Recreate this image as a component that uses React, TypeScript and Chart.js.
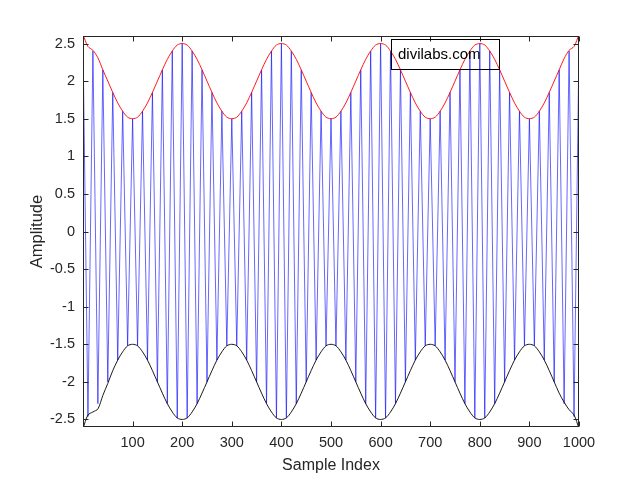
import React, { useEffect, useRef } from "react";
import { Chart, registerables } from "chart.js";

Chart.register(...registerables);

// Sample positions (every 10 samples: carrier peaks and troughs)
const sampleIndex = [
  0, 10, 20, 30, 40, 50, 60, 70, 80, 90,
  100, 110, 120, 130, 140, 150, 160, 170, 180, 190,
  200, 210, 220, 230, 240, 250, 260, 270, 280, 290,
  300, 310, 320, 330, 340, 350, 360, 370, 380, 390,
  400, 410, 420, 430, 440, 450, 460, 470, 480, 490,
  500, 510, 520, 530, 540, 550, 560, 570, 580, 590,
  600, 610, 620, 630, 640, 650, 660, 670, 680, 690,
  700, 710, 720, 730, 740, 750, 760, 770, 780, 790,
  800, 810, 820, 830, 840, 850, 860, 870, 880, 890,
  900, 910, 920, 930, 940, 950, 960, 970, 980, 990,
  1000,
];

// AM signal (blue): peak / trough values
const signal = [
  2.5, -2.46, 2.4, -2.29, 2.15, -2.0, 1.85, -1.71, 1.6, -1.52,
  1.5, -1.52, 1.6, -1.71, 1.85, -2.0, 2.15, -2.29, 2.4, -2.48,
  2.5, -2.48, 2.4, -2.29, 2.15, -2.0, 1.85, -1.71, 1.6, -1.52,
  1.5, -1.52, 1.6, -1.71, 1.85, -2.0, 2.15, -2.29, 2.4, -2.48,
  2.5, -2.48, 2.4, -2.29, 2.15, -2.0, 1.85, -1.71, 1.6, -1.52,
  1.5, -1.52, 1.6, -1.71, 1.85, -2.0, 2.15, -2.29, 2.4, -2.48,
  2.5, -2.48, 2.4, -2.29, 2.15, -2.0, 1.85, -1.71, 1.6, -1.52,
  1.5, -1.52, 1.6, -1.71, 1.85, -2.0, 2.15, -2.29, 2.4, -2.48,
  2.5, -2.48, 2.4, -2.29, 2.15, -2.0, 1.85, -1.71, 1.6, -1.52,
  1.5, -1.52, 1.6, -1.71, 1.85, -2.0, 2.15, -2.29, 2.4, -2.46,
  2.5,
];

// Upper envelope (red)
const upperEnvelope = [
  2.62, 2.46, 2.41, 2.31, 2.15, 2.0, 1.85, 1.71, 1.6, 1.52,
  1.5, 1.52, 1.6, 1.71, 1.85, 2.0, 2.15, 2.29, 2.4, 2.48,
  2.5, 2.48, 2.4, 2.29, 2.15, 2.0, 1.85, 1.71, 1.6, 1.52,
  1.5, 1.52, 1.6, 1.71, 1.85, 2.0, 2.15, 2.29, 2.4, 2.48,
  2.5, 2.48, 2.4, 2.29, 2.15, 2.0, 1.85, 1.71, 1.6, 1.52,
  1.5, 1.52, 1.6, 1.71, 1.85, 2.0, 2.15, 2.29, 2.4, 2.48,
  2.5, 2.48, 2.4, 2.29, 2.15, 2.0, 1.85, 1.71, 1.6, 1.52,
  1.5, 1.52, 1.6, 1.71, 1.85, 2.0, 2.15, 2.29, 2.4, 2.48,
  2.5, 2.48, 2.4, 2.29, 2.15, 2.0, 1.85, 1.71, 1.6, 1.52,
  1.5, 1.52, 1.6, 1.71, 1.85, 2.0, 2.15, 2.3, 2.41, 2.46,
  2.62,
];

// Lower envelope (black)
const lowerEnvelope = [
  -2.62, -2.44, -2.4, -2.36, -2.18, -2.02, -1.85, -1.71, -1.6, -1.52,
  -1.5, -1.52, -1.6, -1.71, -1.85, -2.0, -2.15, -2.29, -2.4, -2.48,
  -2.5, -2.48, -2.4, -2.29, -2.15, -2.0, -1.85, -1.71, -1.6, -1.52,
  -1.5, -1.52, -1.6, -1.71, -1.85, -2.0, -2.15, -2.29, -2.4, -2.48,
  -2.5, -2.48, -2.4, -2.29, -2.15, -2.0, -1.85, -1.71, -1.6, -1.52,
  -1.5, -1.52, -1.6, -1.71, -1.85, -2.0, -2.15, -2.29, -2.4, -2.48,
  -2.5, -2.48, -2.4, -2.29, -2.15, -2.0, -1.85, -1.71, -1.6, -1.52,
  -1.5, -1.52, -1.6, -1.71, -1.85, -2.0, -2.15, -2.29, -2.4, -2.48,
  -2.5, -2.48, -2.4, -2.29, -2.15, -2.0, -1.85, -1.71, -1.6, -1.52,
  -1.5, -1.52, -1.6, -1.71, -1.85, -2.0, -2.15, -2.27, -2.37, -2.44,
  -2.62,
];

const xTicks = [100, 200, 300, 400, 500, 600, 700, 800, 900, 1000];
const yTicks = [-2.5, -2, -1.5, -1, -0.5, 0, 0.5, 1, 1.5, 2, 2.5];
const xRange = [0, 1000];
const yRange = [-2.6, 2.6];
const xLabel = "Sample Index";
const yLabel = "Amplitude";
const annotationText = "divilabs.com";

const FONT = '"Liberation Sans", Arial, Helvetica, sans-serif';
const AXIS_COLOR = "#262626";

const framePlugin = {
  id: "matlabFrame",
  afterDatasetsDraw(chart: any) {
    const { ctx, chartArea: a, scales } = chart;
    ctx.save();
    ctx.strokeStyle = AXIS_COLOR;
    ctx.lineWidth = 1;
    const L = Math.round(a.left) + 0.5;
    const R = Math.round(a.right) - 0.5;
    const T = Math.round(a.top) + 0.5;
    const B = Math.round(a.bottom) - 0.5;
    ctx.strokeRect(L, T, R - L, B - T);
    const tl = 5;
    ctx.beginPath();
    for (const v of xTicks) {
      const px = Math.round(scales.x.getPixelForValue(v)) + 0.5;
      ctx.moveTo(px, B);
      ctx.lineTo(px, B - tl);
      ctx.moveTo(px, T);
      ctx.lineTo(px, T + tl);
    }
    for (const v of yTicks) {
      const py = Math.round(scales.y.getPixelForValue(v)) + 0.5;
      ctx.moveTo(L, py);
      ctx.lineTo(L + tl, py);
      ctx.moveTo(R, py);
      ctx.lineTo(R - tl, py);
    }
    ctx.stroke();

    // text box annotation
    ctx.strokeStyle = "#000000";
    ctx.strokeRect(391.5, 39.5, 108, 30);
    ctx.fillStyle = "#000000";
    ctx.font = `15px ${FONT}`;
    ctx.textBaseline = "middle";
    ctx.textAlign = "left";
    ctx.fillText(annotationText, 398, 55);
    ctx.restore();
  },
};

export default function App() {
  const canvasRef = useRef<HTMLCanvasElement | null>(null);

  useEffect(() => {
    const canvas = canvasRef.current;
    if (!canvas) return;
    const toPoints = (ys: number[]) => sampleIndex.map((x, i) => ({ x, y: ys[i] }));
    const chart = new Chart(canvas, {
      type: "line",
      data: {
        datasets: [
          {
            label: "Upper envelope",
            data: toPoints(upperEnvelope),
            borderColor: "#ff0000",
            borderWidth: 0.9,
            pointRadius: 0,
            tension: 0.3,
            order: 1,
          },
          {
            label: "Lower envelope",
            data: toPoints(lowerEnvelope),
            borderColor: "#000000",
            borderWidth: 0.9,
            pointRadius: 0,
            tension: 0.3,
            order: 1,
          },
          {
            label: "Signal",
            data: toPoints(signal),
            borderColor: "#0000ff",
            borderWidth: 0.6,
            pointRadius: 0,
            tension: 0,
            order: 2,
          },
        ],
      },
      options: {
        animation: false,
        responsive: false,
        devicePixelRatio: 1,
        layout: { padding: { left: 0, top: 36, right: 61, bottom: 0 } },
        plugins: {
          legend: { display: false },
          tooltip: { enabled: false },
        },
        scales: {
          x: {
            type: "linear",
            min: xRange[0],
            max: xRange[1],
            afterBuildTicks: (s: any) => {
              s.ticks = xTicks.map((v) => ({ value: v }));
            },
            afterFit: (s: any) => {
              s.height = 53;
            },
            grid: { display: false, drawTicks: false },
            border: { display: false },
            ticks: {
              padding: 7,
              color: AXIS_COLOR,
              font: { family: FONT, size: 14.5 },
              maxRotation: 0,
              autoSkip: false,
              callback: (v: any) => String(v),
            },
            title: {
              display: true,
              text: xLabel,
              color: AXIS_COLOR,
              font: { family: FONT, size: 16 },
              padding: { top: 0, bottom: 5 },
            },
          },
          y: {
            type: "linear",
            min: yRange[0],
            max: yRange[1],
            afterBuildTicks: (s: any) => {
              s.ticks = yTicks.map((v) => ({ value: v }));
            },
            afterFit: (s: any) => {
              s.width = 83;
            },
            grid: { display: false, drawTicks: false },
            border: { display: false },
            ticks: {
              padding: 8,
              color: AXIS_COLOR,
              font: { family: FONT, size: 14.5 },
              autoSkip: false,
              callback: (v: any) => String(v),
            },
            title: {
              display: true,
              text: yLabel,
              color: AXIS_COLOR,
              font: { family: FONT, size: 16.5 },
              padding: { top: 28, bottom: 0 },
            },
          },
        },
      },
      plugins: [framePlugin],
    });
    return () => chart.destroy();
  }, []);

  return (
    <div
      style={{
        position: "fixed",
        left: 0,
        top: 0,
        width: 640,
        height: 480,
        background: "#ffffff",
      }}
    >
      <canvas ref={canvasRef} width={640} height={480} />
    </div>
  );
}
